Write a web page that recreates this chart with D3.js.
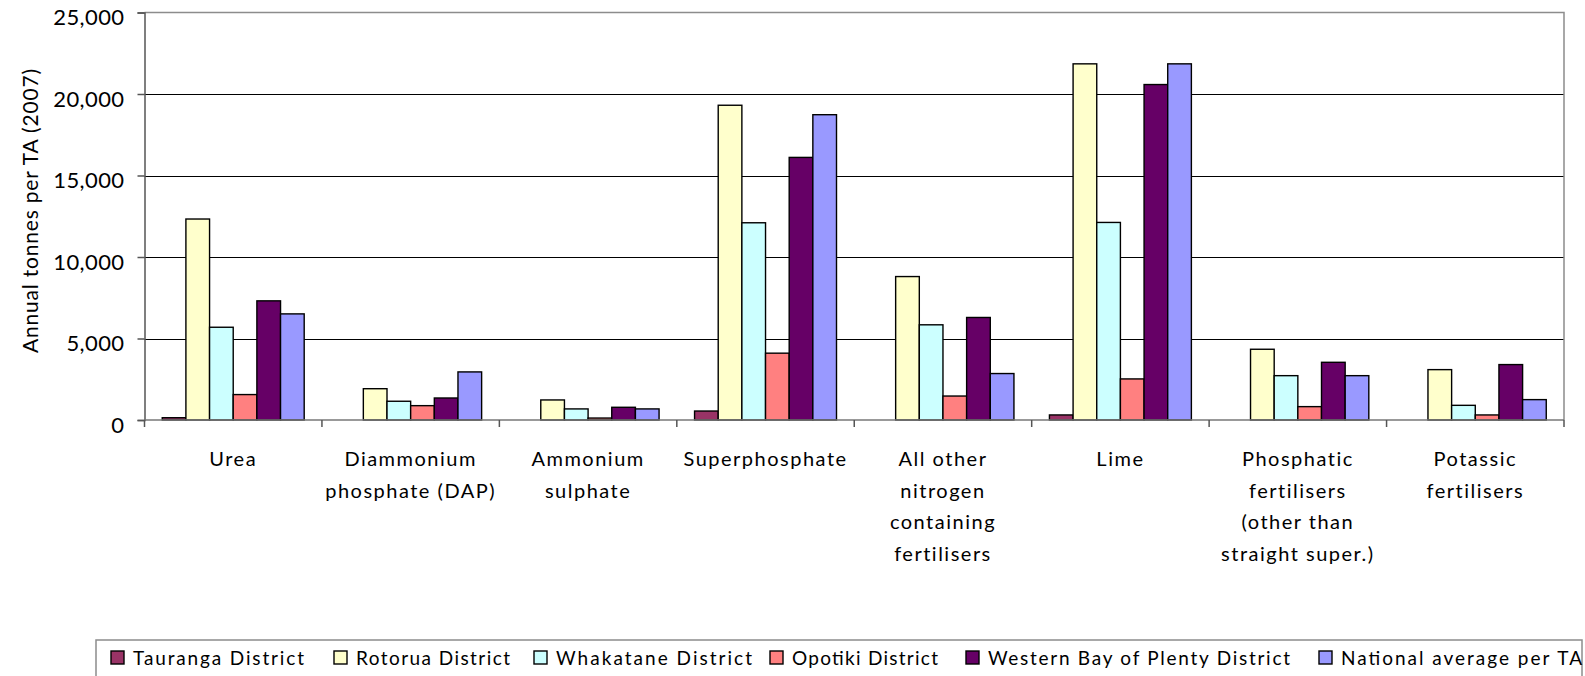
<!DOCTYPE html>
<html>
<head>
<meta charset="utf-8">
<script src="https://cdn.jsdelivr.net/npm/d3@7/dist/d3.min.js"></script>
<style>
  html, body { margin: 0; padding: 0; background: #fff; }
  svg { display: block; }
  text { font-family: Lato, "Open Sans", sans-serif; fill: #000; }
</style>
</head>
<body>
<svg id="chart" width="1585" height="676"></svg>
<script>
// Fertiliser types (x categories), each drawn as a block of wrapped lines
const categories = [
  "Urea", "Diammonium phosphate (DAP)", "Ammonium sulphate", "Superphosphate",
  "All other nitrogen containing fertilisers", "Lime",
  "Phosphatic fertilisers (other than straight super.)", "Potassic fertilisers"
];
const categoryLines = [
  ["Urea"],
  ["Diammonium", "phosphate (DAP)"],
  ["Ammonium", "sulphate"],
  ["Superphosphate"],
  ["All other", "nitrogen", "containing", "fertilisers"],
  ["Lime"],
  ["Phosphatic", "fertilisers", "(other than", "straight super.)"],
  ["Potassic", "fertilisers"]
];

// Territorial authorities (series)
const seriesNames = [
  "Tauranga District", "Rotorua District", "Whakatane District",
  "Opotiki District", "Western Bay of Plenty District", "National average per TA"
];
const seriesColors = ["#993366", "#FFFFCC", "#CCFFFF", "#FF8080", "#660066", "#9999FF"];

// Annual tonnes per TA (2007), one array per series, in category order
const tauranga  = [140,   0,    0,    550,   0,    310,   0,    0];
const rotorua   = [12330, 1920, 1230, 19310, 8800, 21850, 4340, 3090];
const whakatane = [5690,  1150, 680,  12100, 5840, 12120, 2720, 900];
const opotiki   = [1560,  880,  120,  4100,  1470, 2520,  820,  310];
const westernBay= [7310,  1350, 780,  16110, 6290, 20580, 3540, 3400];
const national  = [6510,  2950, 680,  18730, 2850, 21850, 2720, 1250];
const seriesValues = [tauranga, rotorua, whakatane, opotiki, westernBay, national];

const yTicks = [0, 5000, 10000, 15000, 20000, 25000];

const svg = d3.select("#chart");
const plot = { left: 144.5, right: 1564, top: 12.5, bottom: 420 };

const x = d3.scaleBand().domain(categories).range([plot.left, plot.right]).padding(0);
const xs = d3.scaleBand().domain(seriesNames)
  .range([x.bandwidth() * 0.1, x.bandwidth() * 0.9]).padding(0);
const y = d3.scaleLinear().domain([0, 25000]).range([plot.bottom, plot.top]);

// Horizontal gridlines
svg.append("g").selectAll("line").data(yTicks.filter(d => d > 0 && d < 25000)).join("line")
  .attr("x1", plot.left).attr("x2", plot.right)
  .attr("y1", d => Math.round(y(d)) + 0.5).attr("y2", d => Math.round(y(d)) + 0.5)
  .attr("stroke", "#000").attr("stroke-width", 1);

// Plot area frame (top and right edges)
svg.append("path")
  .attr("d", `M${plot.left},${plot.top}H${plot.right}V${plot.bottom}`)
  .attr("fill", "none").attr("stroke", "#8c8c8c").attr("stroke-width", 1.5);

// Bars
const groups = svg.append("g").selectAll("g").data(categories).join("g")
  .attr("transform", d => `translate(${x(d)},0)`);
groups.selectAll("rect")
  .data((c, ci) => seriesNames.map((s, si) => ({ s, si, v: seriesValues[si][ci] })).filter(d => d.v > 0))
  .join("rect")
  .attr("x", d => xs(d.s))
  .attr("width", xs.bandwidth())
  .attr("y", d => y(d.v))
  .attr("height", d => y(0) - y(d.v))
  .attr("fill", d => seriesColors[d.si])
  .attr("stroke", "#000").attr("stroke-width", 1.4);

// Y axis
const yAxis = d3.axisLeft(y).tickValues(yTicks).tickSize(7).tickPadding(13)
  .tickFormat(d3.format(","));
const gy = svg.append("g").attr("transform", `translate(${plot.left},0)`).call(yAxis);
gy.select(".domain").attr("stroke", "#555").attr("stroke-width", 1.5);
gy.selectAll(".tick line").attr("stroke", "#555").attr("stroke-width", 1.5);
gy.selectAll(".tick text").attr("font-size", 22).attr("dy", "0.55em")
  .style("font-family", "Lato, sans-serif")
  .style("letter-spacing", "0.4px");

// X axis (category boundaries as ticks)
svg.append("line").attr("x1", plot.left).attr("x2", plot.right)
  .attr("y1", plot.bottom).attr("y2", plot.bottom)
  .attr("stroke", "#777").attr("stroke-width", 1.5);
const boundaries = categories.map(c => x(c)).concat([plot.right]);
svg.append("g").selectAll("line").data(boundaries).join("line")
  .attr("x1", d => d).attr("x2", d => d)
  .attr("y1", plot.bottom).attr("y2", plot.bottom + 7)
  .attr("stroke", "#555").attr("stroke-width", 1.5);

// Category labels
const lab = svg.append("g").selectAll("text").data(categories).join("text")
  .attr("text-anchor", "middle")
  .attr("font-size", 20)
  .style("letter-spacing", "1.5px");
lab.each(function (c, i) {
  const t = d3.select(this);
  categoryLines[i].forEach((line, li) => {
    t.append("tspan")
      .attr("x", x(c) + x.bandwidth() / 2)
      .attr("y", 466 + li * 31.5)
      .text(line);
  });
});

// Y-axis title
svg.append("text")
  .attr("transform", "translate(38,211) rotate(-90)")
  .attr("text-anchor", "middle")
  .attr("font-size", 21)
  .attr("textLength", 284).attr("lengthAdjust", "spacing")
  .text("Annual tonnes per TA (2007)");

// Legend
const legendBox = svg.append("g");
legendBox.append("rect")
  .attr("x", 96).attr("y", 640).attr("width", 1486).attr("height", 60)
  .attr("fill", "#fff").attr("stroke", "#8c8c8c").attr("stroke-width", 1.5);
const legendX = [111, 334, 534, 770, 966, 1319];
const legendW = [171, 154, 196, 146, 302, 241];
const li = legendBox.selectAll("g.item").data(seriesNames).join("g").attr("class", "item")
  .attr("transform", (d, i) => `translate(${legendX[i]},651)`);
li.append("rect").attr("width", 13).attr("height", 13)
  .attr("fill", (d, i) => seriesColors[i]).attr("stroke", "#000").attr("stroke-width", 1.4);
li.append("text").attr("x", 22).attr("y", 13.5)
  .attr("font-size", 19)
  .attr("textLength", (d, i) => legendW[i]).attr("lengthAdjust", "spacing")
  .text(d => d);
</script>
</body>
</html>
